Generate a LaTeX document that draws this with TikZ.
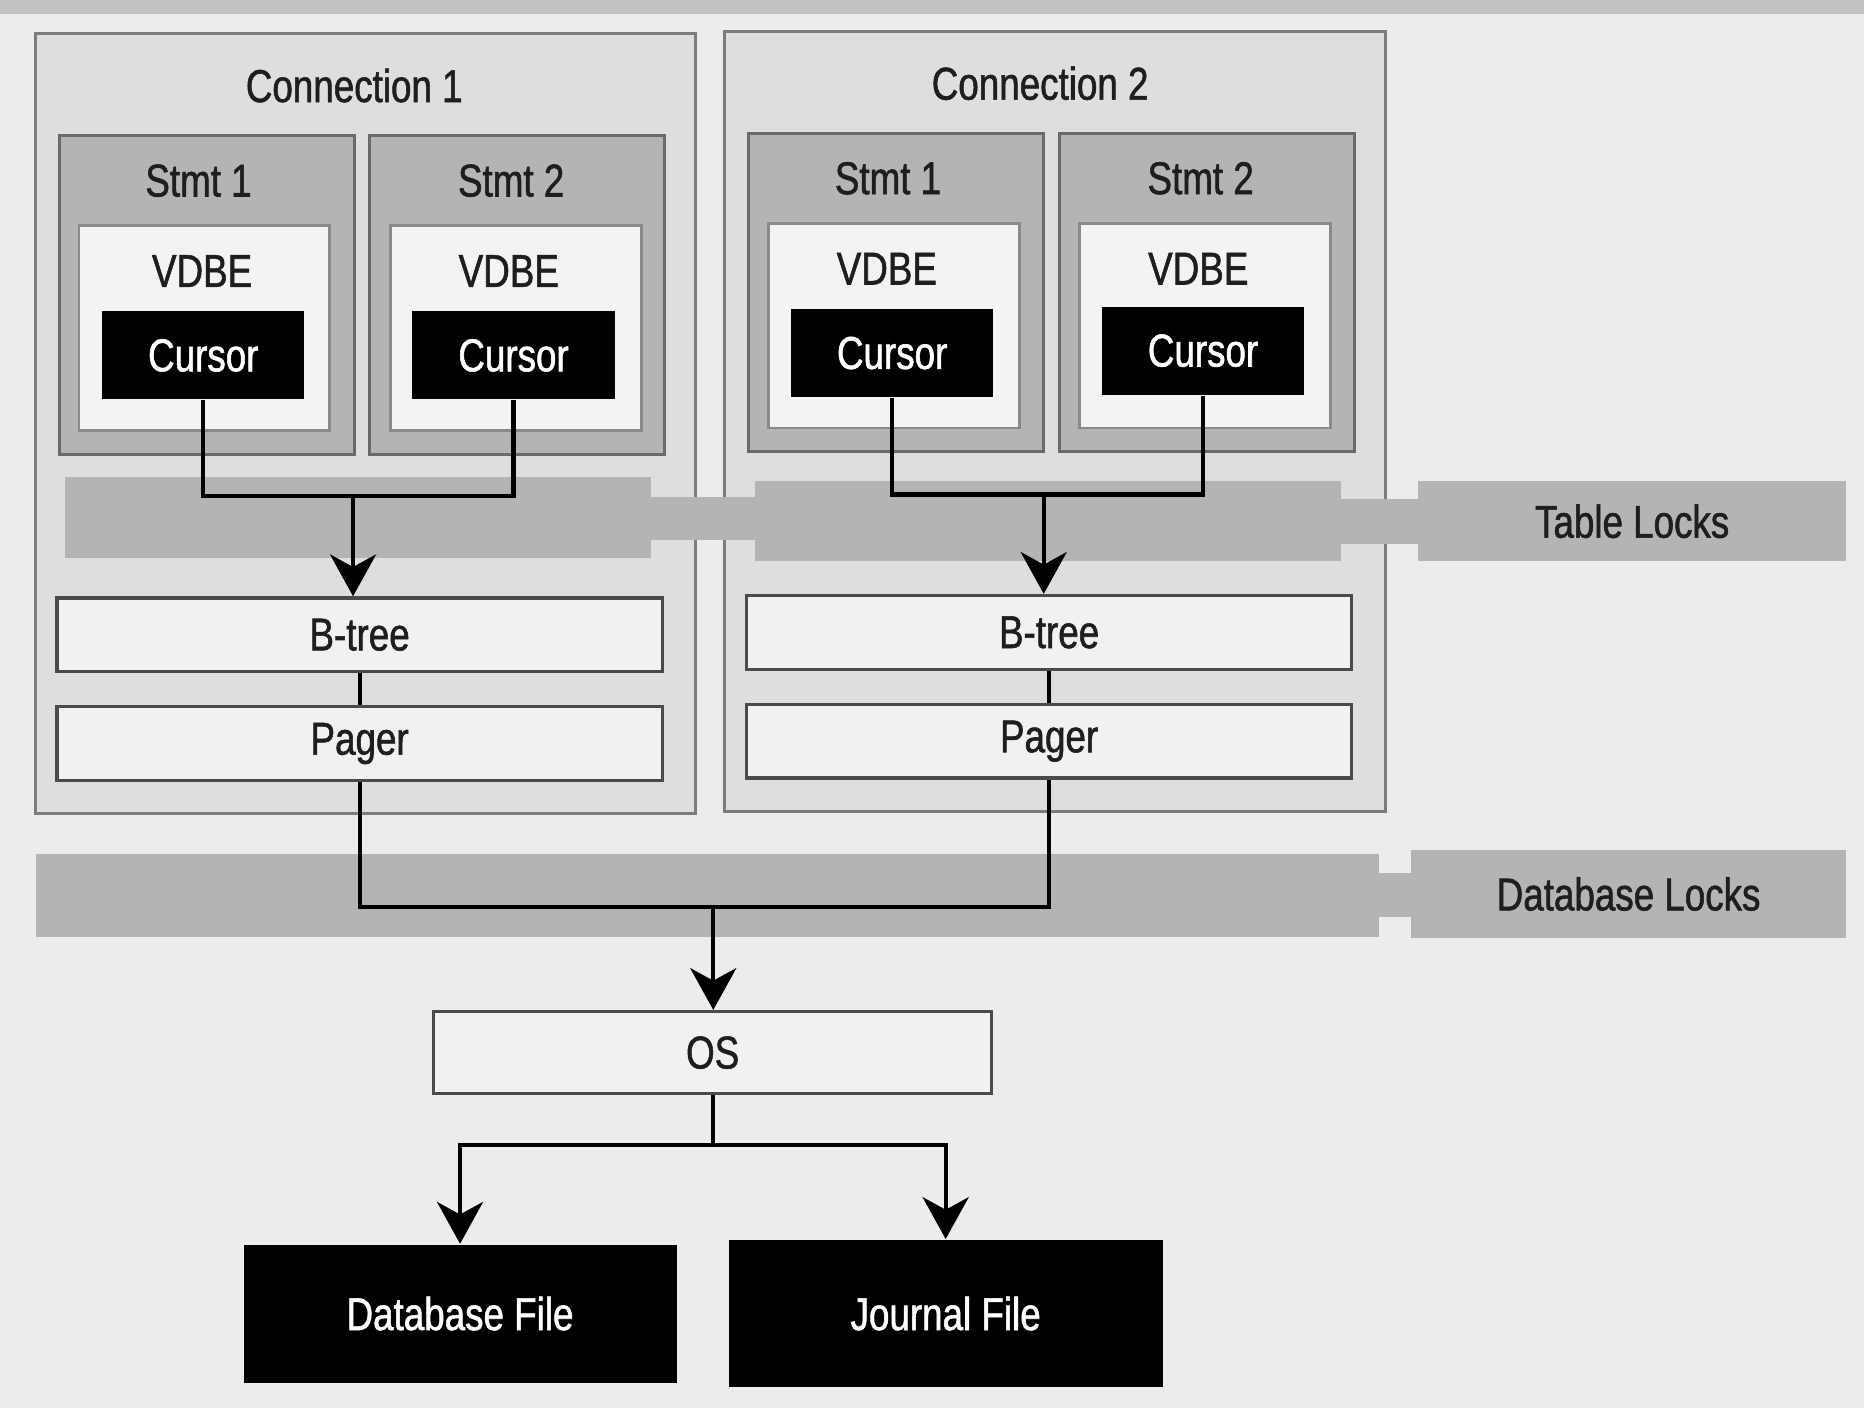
\documentclass[tikz,border=0pt]{standalone}
\usepackage{fontspec}
\setmainfont{Liberation Sans}[FakeStretch=0.8, FakeBold=1.2, AutoFakeBold=1.2]
\usetikzlibrary{arrows.meta,calc,positioning}
\definecolor{bgfill}{HTML}{ECECEC}
\definecolor{topbar}{HTML}{C2C2C2}
\definecolor{connfill}{HTML}{DEDEDE}
\definecolor{connline}{HTML}{7C7C7C}
\definecolor{stmtfill}{HTML}{B4B4B4}
\definecolor{stmtline}{HTML}{6A6A6A}
\definecolor{vdbefill}{HTML}{F3F3F3}
\definecolor{vdbeline}{HTML}{8A8A8A}
\definecolor{layerfill}{HTML}{F1F1F1}
\definecolor{layerline}{HTML}{4A4A4A}
\definecolor{bandfill}{HTML}{B4B4B4}
\definecolor{ink}{HTML}{1E1E1E}
\tikzset{conn/.style={draw=connline, fill=connfill, line width=0.7pt, inner sep=0pt, minimum width=5.55cm, minimum height=6.56cm}}
\tikzset{stmtbox/.style={draw=stmtline, fill=stmtfill, line width=0.7pt, inner sep=0pt, minimum width=2.48cm, minimum height=2.68cm}}
\tikzset{vdbe/.style={draw=vdbeline, fill=vdbefill, line width=0.7pt, inner sep=0pt, minimum width=2.11cm, minimum height=1.72cm}}
\tikzset{cursor/.style={fill=black, text=white, inner sep=0pt, minimum width=1.70cm, minimum height=0.74cm}}
\tikzset{layer/.style={draw=layerline, fill=layerfill, text=ink, line width=0.8pt, inner sep=0pt, minimum width=5.09cm, minimum height=0.62cm}}
\tikzset{filebox/.style={fill=black, text=white, inner sep=0pt, minimum width=3.64cm, minimum height=1.16cm}}
\tikzset{lockbox/.style={fill=bandfill, text=ink, inner sep=0pt, minimum width=3.60cm, minimum height=0.67cm}}
\tikzset{txt/.style={text=ink, inner sep=0pt}}
\tikzset{line/.style={draw, line width=1pt}}
\tikzset{arrow/.style={line, -{Stealth[length=10pt, width=11pt, inset=3pt]}}}

\begin{document}
\begin{tikzpicture}[x=0.01cm, y=-0.01cm, font=\fontsize{11}{13}\selectfont]
		\useasboundingbox (0,0) rectangle (1568,1184.4);
		\fill [bgfill] (0,0) rectangle (1568,1184.4);
		\fill [topbar] (0,0) rectangle (1568,12);

		% connections
		\node [conn]								(c1) at (307.5,356) {};
		\node [conn]								(c2) at (887.5,354.5) {};
		\node [txt]									(c1t) at (298,72) {Connection 1};
		\node [txt]									(c2t) at (875,70) {Connection 2};

		% table locks band
		\fill [bandfill] (55,401) rectangle (548,469);
		\fill [bandfill] (548,418) rectangle (635,454);
		\fill [bandfill] (635,405) rectangle (1128,472);
		\fill [bandfill] (1128,420) rectangle (1193,458);
		\node [lockbox]								(tl) at (1373,438.5) {Table Locks};

		% statements
		\node [stmtbox]								(s11) at (174,248) {};
		\node [stmtbox]								(s12) at (435,248) {};
		\node [stmtbox]								(s21) at (753.5,246) {};
		\node [stmtbox]								(s22) at (1015.5,246) {};
		\node [txt]									(s11t) at (167,152) {Stmt 1};
		\node [txt]									(s12t) at (430,152) {Stmt 2};
		\node [txt]									(s21t) at (747,150) {Stmt 1};
		\node [txt]									(s22t) at (1010,150) {Stmt 2};

		\node [vdbe]								(v11) at (172,276) {};
		\node [vdbe]								(v12) at (434,276) {};
		\node [vdbe]								(v21) at (752,274) {};
		\node [vdbe]								(v22) at (1013.5,274) {};
		\node [txt]									(v11t) at (170,228) {VDBE};
		\node [txt]									(v12t) at (428,228) {VDBE};
		\node [txt]									(v21t) at (746,226) {VDBE};
		\node [txt]									(v22t) at (1008,226) {VDBE};

		\node [cursor]								(k11) at (171,299) {Cursor};
		\node [cursor]								(k12) at (432,299) {Cursor};
		\node [cursor]								(k21) at (750.5,297) {Cursor};
		\node [cursor]								(k22) at (1012,295) {Cursor};

		% b-tree and pager
		\node [layer]								(b1) at (302.5,534) {B-tree};
		\node [layer]								(p1) at (302.5,625.5) {Pager};
		\node [layer]								(b2) at (882.5,532) {B-tree};
		\node [layer]								(p2) at (882.5,623.5) {Pager};

		% database locks band
		\fill [bandfill] (30,718) rectangle (1160,788);
		\fill [bandfill] (1160,734) rectangle (1187,771);
		\node [lockbox, minimum width=3.66cm, minimum height=0.74cm]	(dl) at (1370,752) {Database Locks};

		\node [layer, minimum width=4.69cm, minimum height=0.69cm]	(os) at (599.5,885.5) {OS};
		\node [filebox]								(df) at (387,1105) {Database File};
		\node [filebox, minimum width=3.65cm, minimum height=1.24cm]	(jf) at (795.5,1105) {Journal File};

		\coordinate (j1) at (297,417);
		\coordinate (j2) at (878,416);
		\coordinate (j3) at (600,763);
		\coordinate (j4) at (599.5,963);

		\path [line] (k11.south) |- (j1) -| (k12.south);
		\path [arrow] (j1) -- (j1 |- b1.north);
		\path [line] (k21.south) |- (j2) -| (k22.south);
		\path [arrow] (j2) -- (j2 |- b2.north);
		\path [line] (b1.south) -- (p1.north);
		\path [line] (b2.south) -- (p2.north);
		\path [line] (p1.south) |- (j3) -| (p2.south);
		\path [arrow] (j3) -- (j3 |- os.north);
		\path [line] (os.south) -- (j4);
		\path [arrow] (j4) -| (df.north);
		\path [arrow] (j4) -| (jf.north);
	\end{tikzpicture}
\end{document}
